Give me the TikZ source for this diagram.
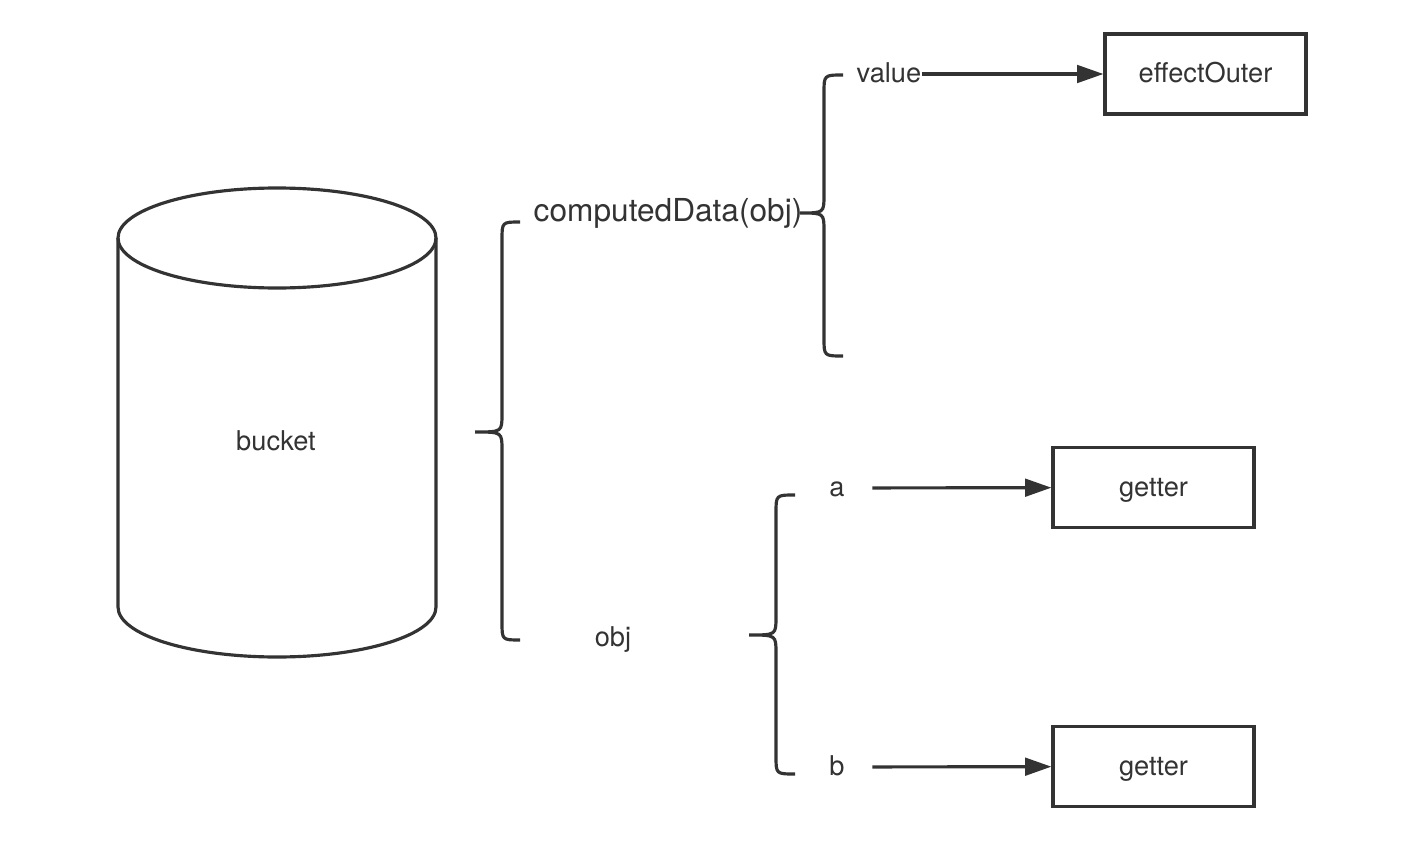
\documentclass[tikz,border=0pt]{standalone}
\usepackage{fontspec}
\setmainfont{TeX Gyre Heros}
\usepackage{tikz}
\usetikzlibrary{arrows.meta}
\usetikzlibrary{positioning}
\definecolor{ink}{HTML}{333333}
\tikzset{
  line/.style={line width=1.8pt, draw=ink},
  arr/.style={line, -{Triangle[length=15pt, width=10pt]}},
  box/.style={line, rectangle, minimum width=4.02cm, minimum height=1.6cm, inner sep=0pt},
  lbl/.style={text=ink, inner sep=0pt, text height=1em, text depth=0pt, font=\fontsize{15.5}{18}\selectfont},
  key/.style={lbl, minimum width=1.4cm},
}
\begin{document}
\begin{tikzpicture}[x=0.02cm, y=-0.02cm]
\useasboundingbox (0,0) rectangle (1428,852);
% bucket
\draw[line] (118,238) -- (118,607) arc[start angle=180, end angle=0, x radius=159, y radius=50] -- (436,238);
\draw[line] (277,238) ellipse[x radius=159, y radius=50];
\node[lbl] (bucket) at (276,442) {bucket};
% braces
\draw[line] (520,222) .. controls (502,222) .. (502,240) -- (502,414)
  .. controls (502,432) .. (475,432) .. controls (502,432) .. (502,450)
  -- (502,622) .. controls (502,640) .. (520,640);
\draw[line] (843,75) .. controls (824,75) .. (824,93) -- (824,195)
  .. controls (824,213) .. (800,213) .. controls (824,213) .. (824,231)
  -- (824,338) .. controls (824,356) .. (843,356);
\draw[line] (795,495) .. controls (776,495) .. (776,513) -- (776,617)
  .. controls (776,635) .. (749,635) .. controls (776,635) .. (776,653)
  -- (776,756) .. controls (776,774) .. (795,774);
% labels
\node[lbl, font=\fontsize{18}{21}\selectfont] (data) at (668,213) {computedData(obj)};
\node[lbl] (obj) at (613,638) {obj};
\node[lbl] (value) at (889,74) {value};
\node[key] (a) at (837,488) {a};
\node[key] (b) at (837,767) {b};
% targets
\node[box, lbl] (outer) at (1205.5,74) {effectOuter};
\node[box, lbl] (get1) at (1153.5,487.5) {getter};
\node[box, lbl] (get2) at (1153.5,766.5) {getter};
\draw[arr] (value) -- (outer);
\draw[arr] (a) -- (get1);
\draw[arr] (b) -- (get2);
\end{tikzpicture}
\end{document}
